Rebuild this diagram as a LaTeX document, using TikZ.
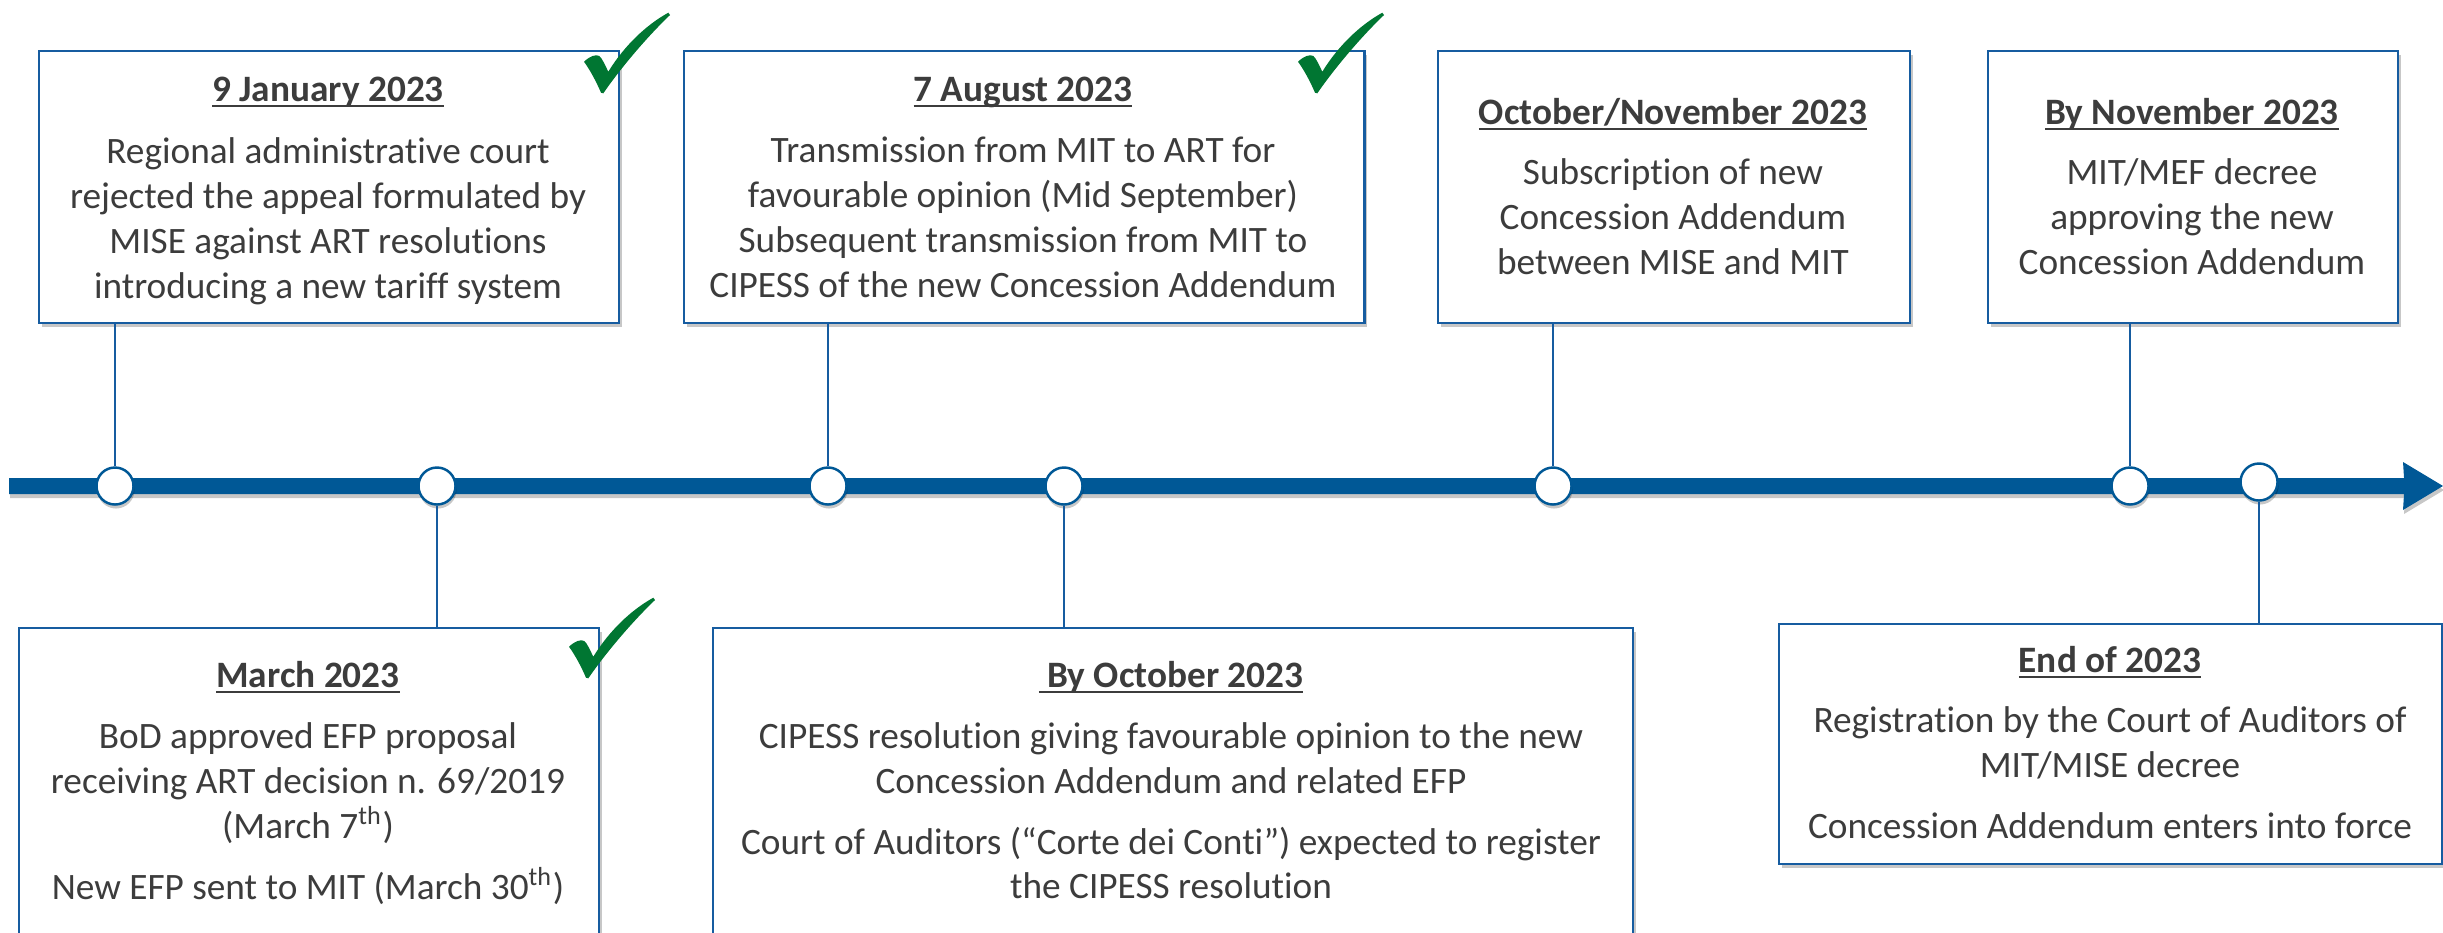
\documentclass[tikz,border=0pt]{standalone}
\usepackage{fontspec}
\setmainfont{Carlito}[Ligatures=NoCommon]
\usetikzlibrary{shadows}
\definecolor{tlblue}{RGB}{0,88,150}
\definecolor{bxblue}{RGB}{22,92,160}
\definecolor{txtgray}{RGB}{60,60,60}
\definecolor{chkgreen}{RGB}{0,118,50}
\newcommand\ttl[1]{\setbox0\hbox{\bfseries #1}\rlap{\rule[-1.7pt]{\wd0}{0.55pt}}\box0}
\tikzset{
  evbox/.style={draw=bxblue, line width=0.6pt, fill=white, inner sep=0pt,
    drop shadow={shadow xshift=0.03cm, shadow yshift=-0.04cm, opacity=0.22, fill=black}},
  ln/.style={anchor=base, inner sep=0pt, text=txtgray, font=\fontsize{10.6}{12.7}\selectfont},
  conn/.style={draw=bxblue, line width=0.4pt},
  dot/.style={circle, draw=tlblue, line width=0.7pt, fill=white, minimum size=0.37cm, inner sep=0pt,
    drop shadow={shadow xshift=0.01cm, shadow yshift=-0.04cm, opacity=0.22, fill=black}},
  chkmark/.pic={
    \fill[chkgreen] (0,48.7) .. controls (6,43) and (12,41) .. (15.3,43)
      .. controls (18,45) and (21,52) .. (24.3,58.7)
      .. controls (40,33) and (62,12) .. (84.3,-0.3) -- (86,2)
      .. controls (62,25) and (36,56) .. (19.3,80.3) -- (17,79.7)
      .. controls (12,68) and (6,57) .. cycle;
  }
}
\begin{document}
\begin{tikzpicture}[x=0.01cm,y=-0.01cm]
\useasboundingbox (0,0) rectangle (2443,932);
\clip (0,0) rectangle (2443,932);

% boxes
\node[evbox, anchor=north west, minimum width=5.8cm, minimum height=2.72cm] (b1) at (38,50) {};
\node[evbox, anchor=north west, minimum width=6.8cm, minimum height=2.72cm] (b2) at (683,50) {};
\node[evbox, anchor=north west, minimum width=4.72cm, minimum height=2.72cm] (b3) at (1437,50) {};
\node[evbox, anchor=north west, minimum width=4.1cm, minimum height=2.72cm] (b4) at (1987,50) {};
\node[evbox, anchor=north west, minimum width=5.8cm, minimum height=3.4cm] (b5) at (18,627) {};
\node[evbox, anchor=north west, minimum width=9.19cm, minimum height=3.4cm] (b6) at (712,627) {};
\node[evbox, anchor=north west, minimum width=6.63cm, minimum height=2.4cm] (b7) at (1778,623) {};

% timeline
\path[fill=tlblue, drop shadow={shadow xshift=0.01cm, shadow yshift=-0.04cm, opacity=0.22, fill=black}]
  (9,478) -- (2404,478) -- (2403,462) -- (2443,486) -- (2403,510) -- (2404,494) -- (9,494) -- cycle;

% dots
\node[dot] (d1) at (115,486) {};
\node[dot] (d2) at (437,486) {};
\node[dot] (d3) at (828,486) {};
\node[dot] (d4) at (1064,486) {};
\node[dot] (d5) at (1553,486) {};
\node[dot] (d6) at (2130,486) {};
\node[dot] (d7) at (2259,482) {};

% connectors
\draw[conn] (b1.south -| d1) -- (d1.north);
\draw[conn] (b2.south -| d3) -- (d3.north);
\draw[conn] (b3.south -| d5) -- (d5.north);
\draw[conn] (b4.south -| d6) -- (d6.north);
\draw[conn] (d2.south) -- (d2.south |- b5.north);
\draw[conn] (d4.south) -- (d4.south |- b6.north);
\draw[conn] (d7.south) -- (d7.south |- b7.north);

% checkmarks
\pic at (584,13) {chkmark};
\pic at (1298,13) {chkmark};
\pic at (569,598) {chkmark};

% box 1
\node[ln] (t1a) at (328,101) {\ttl{9 January 2023}};
\node[ln] (t1b) at (328,163) {Regional administrative court};
\node[ln] (t1c) at (328,208) {rejected the appeal formulated by};
\node[ln] (t1d) at (328,253) {MISE against ART resolutions};
\node[ln] (t1e) at (328,298) {introducing a new tariff system};
% box 2
\node[ln] (t2a) at (1023,101) {\ttl{7 August 2023}};
\node[ln] (t2b) at (1023,162) {Transmission from MIT to ART for};
\node[ln] (t2c) at (1023,207) {favourable opinion (Mid September)};
\node[ln] (t2d) at (1023,252) {Subsequent transmission from MIT to};
\node[ln] (t2e) at (1023,297) {CIPESS of the new Concession Addendum};
% box 3
\node[ln] (t3a) at (1673,124) {\ttl{October/November 2023}};
\node[ln] (t3b) at (1673,184) {Subscription of new};
\node[ln] (t3c) at (1673,229) {Concession Addendum};
\node[ln] (t3d) at (1673,274) {between MISE and MIT};
% box 4
\node[ln] (t4a) at (2192,124) {\ttl{By November 2023}};
\node[ln] (t4b) at (2192,184) {MIT/MEF decree};
\node[ln] (t4c) at (2192,229) {approving the new};
\node[ln] (t4d) at (2192,274) {Concession Addendum};
% box 5
\node[ln] (t5a) at (308,687) {\ttl{March 2023}};
\node[ln] (t5b) at (308,748) {BoD approved EFP proposal};
\node[ln] (t5c) at (308,793) {receiving ART decision n. 69/2019};
\node[ln] (t5d) at (308,838) {(March 7\textsuperscript{th})};
\node[ln] (t5e) at (308,899) {New EFP sent to MIT (March 30\textsuperscript{th})};
% box 6
\node[ln] (t6a) at (1171,687) {\ttl{\ By October 2023}};
\node[ln] (t6b) at (1171,748) {CIPESS resolution giving favourable opinion to the new};
\node[ln] (t6c) at (1171,793) {Concession Addendum and related EFP};
\node[ln] (t6d) at (1171,854) {Court of Auditors (“Corte dei Conti”) expected to register};
\node[ln] (t6e) at (1171,898) {the CIPESS resolution};
% box 7
\node[ln] (t7a) at (2110,672) {\ttl{End of 2023}};
\node[ln] (t7b) at (2110,732) {Registration by the Court of Auditors of};
\node[ln] (t7c) at (2110,777) {MIT/MISE decree};
\node[ln] (t7d) at (2110,838) {Concession Addendum enters into force};
\end{tikzpicture}
\end{document}
